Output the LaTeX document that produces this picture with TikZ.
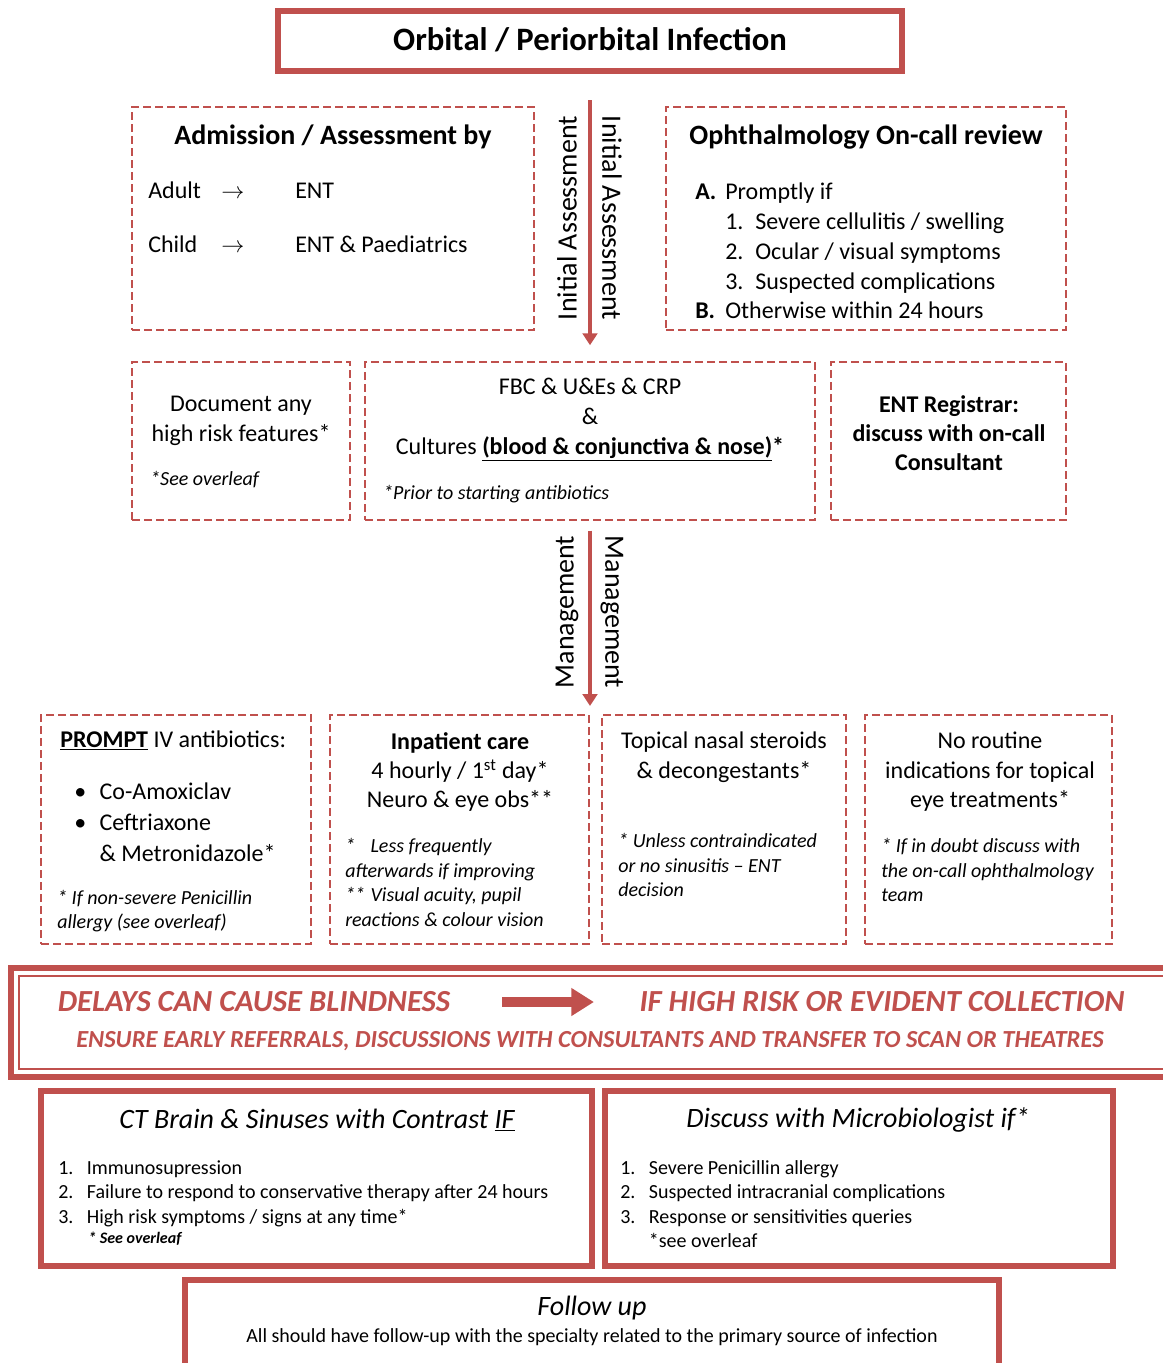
\documentclass[tikz,border=0pt]{standalone}
\usepackage{fontspec}
\setmainfont{Carlito}
\usetikzlibrary{arrows.meta,fit}
\definecolor{accred}{HTML}{C0504D}
\tikzset{
  dbox/.style={draw=accred, dash pattern=on 6pt off 3pt, line width=1.1pt, inner sep=0pt},
  sbox/.style={draw=accred, line width=4.5pt, inner sep=0pt},
  flow/.style={draw=accred, line width=3.6pt, -{Triangle[width=11pt,length=9pt]}},
  txt/.style={inner sep=0pt, align=center, font=\fontsize{18}{22}\selectfont},
  head/.style={inner sep=0pt, font=\fontsize{21}{25}\selectfont\bfseries},
  note/.style={inner sep=0pt, align=left, font=\fontsize{15}{18.5}\selectfont\itshape},
  side/.style={inner sep=0pt, font=\fontsize{21}{25}\selectfont},
  warn/.style={inner sep=0pt, text=accred, font=\bfseries\itshape},
  plain/.style={inner sep=0pt, align=left, font=\fontsize{15}{18.4}\selectfont},
}
\begin{document}
\begin{tikzpicture}[x=0.75pt,y=-0.75pt]
\useasboundingbox (0,0) rectangle (1163,1363);

% title
\node[sbox, fit={(278,11) (902,71)}] (title) {};
\node[inner sep=0pt, anchor=base, font=\fontsize{24.5}{28}\selectfont\bfseries] (titletext) at (590,51) {Orbital / Periorbital Infection};

% initial assessment
\node[dbox, fit={(132,107) (534,330)}] (admit) {};
\node[head] (admithead) at (333,137) {Admission / Assessment by};
\node[txt, anchor=mid west] (adult) at (148,195) {Adult};
\node[txt, anchor=mid west] (adultto) at (221,195) {$\rightarrow$};
\node[txt, anchor=mid west] (adultent) at (295,195) {ENT};
\node[txt, anchor=mid west] (child) at (148,249) {Child};
\node[txt, anchor=mid west] (childto) at (221,249) {$\rightarrow$};
\node[txt, anchor=mid west] (childent) at (295,249) {ENT \& Paediatrics};

\node[dbox, fit={(666,107) (1066,330)}] (ophth) {};
\node[head] (ophthhead) at (866,137) {Ophthalmology On-call review};
\node[txt, align=left, anchor=north west, font=\fontsize{18}{22.3}\selectfont] (ophthlist) at (695,183)
  {\makebox[22.5pt][l]{\textbf{A.}}Promptly if\\
   \hspace*{22.5pt}\makebox[22.5pt][l]{1.}Severe cellulitis / swelling\\
   \hspace*{22.5pt}\makebox[22.5pt][l]{2.}Ocular / visual symptoms\\
   \hspace*{22.5pt}\makebox[22.5pt][l]{3.}Suspected complications\\
   \makebox[22.5pt][l]{\textbf{B.}}Otherwise within 24 hours};

\node[side, rotate=90] (iaone) at (567,218) {Initial Assessment};
\node[side, rotate=-90] (iatwo) at (612,218) {Initial Assessment};

% investigations
\node[dbox, fit={(132,362) (350,520)}] (risk) {};
\node[txt, anchor=north] (risktext) at (241,396) {Document any\\high risk features*};
\node[note, anchor=mid west] (risknote) at (150,482) {*See overleaf};

\node[dbox, fit={(365,362) (815,520)}] (fbc) {};
\node[txt, anchor=north, font=\fontsize{18}{22.5}\selectfont] (fbctext) at (590,378)
  {FBC \& U\&Es \& CRP\\\&\\Cultures \textbf{\underline{(blood \& conjunctiva \& nose)}*}};
\node[note, anchor=mid west] (fbcnote) at (383,496) {*Prior to starting antibiotics};

\node[dbox, fit={(831,362) (1066,520)}] (reg) {};
\node[txt, anchor=north, font=\fontsize{18}{22}\selectfont\bfseries] (regtext) at (949,395)
  {ENT Registrar:\\discuss with on-call\\Consultant};

\draw[flow, shorten <=19.5pt, shorten >=12pt] (title) -- (fbc);

% management
\coordinate (mgmtend) at (590,706);
\draw[flow, shorten <=7.5pt] (fbc) -- (mgmtend);
\node[side, rotate=90] (mgone) at (567,612) {Management};
\node[side, rotate=-90] (mgtwo) at (612,612) {Management};

\node[dbox, fit={(41,715) (311,944)}] (abx) {};
\node[txt, anchor=mid west] (abxhead) at (60,744) {\underline{\textbf{PROMPT}} IV antibiotics:};
\node[txt, align=left, anchor=north west, font=\fontsize{18}{23}\selectfont] (abxlist) at (74,783)
  {\makebox[19pt][l]{\textbullet}Co-Amoxiclav\\
   \makebox[19pt][l]{\textbullet}Ceftriaxone\\
   \hspace*{19pt}\& Metronidazole*};
\node[note, anchor=north west, font=\fontsize{15}{18}\selectfont\itshape] (abxnote) at (57,890)
  {* If non-severe Penicillin\\allergy (see overleaf)};

\node[dbox, fit={(330,715) (589,944)}] (inpat) {};
\node[txt, anchor=north] (inpattext) at (460,732)
  {\textbf{Inpatient care}\\4 hourly / 1\textsuperscript{st} day*\\Neuro \& eye obs**};
\node[note, anchor=north west] (inpatnote) at (345,838)
  {\makebox[19pt][l]{*}Less frequently\\
   afterwards if improving\\
   \makebox[19pt][l]{**}Visual acuity, pupil\\
   reactions \& colour vision};

\node[dbox, fit={(602,715) (846,944)}] (nasal) {};
\node[txt, anchor=north] (nasaltext) at (724,732) {Topical nasal steroids\\\& decongestants*};
\node[note, anchor=north west] (nasalnote) at (618,833)
  {* Unless contraindicated\\or no sinusitis -- ENT\\decision};

\node[dbox, fit={(865,715) (1112,944)}] (eye) {};
\node[txt, anchor=north] (eyetext) at (990,732) {No routine\\indications for topical\\eye treatments*};
\node[note, anchor=north west] (eyenote) at (881,838)
  {* If in doubt discuss with\\the on-call ophthalmology\\team};

% warning banner
\node[draw=accred, line width=4.5pt, inner sep=0pt, fit={(11,968) (1178,1077)}] (banner) {};
\node[draw=accred, line width=1.5pt, inner sep=0pt, fit={(19,976) (1178,1069)}] (bannerin) {};
\node[warn, font=\bfseries\itshape\fontsize{23}{27}\selectfont] (delays) at (254,1002) {DELAYS CAN CAUSE BLINDNESS};
\node[warn, font=\bfseries\itshape\fontsize{23}{27}\selectfont] (highrisk) at (882,1002) {IF HIGH RISK OR EVIDENT COLLECTION};
\node[warn, font=\bfseries\itshape\fontsize{18.4}{22}\selectfont] (ensure) at (590,1041)
  {ENSURE EARLY REFERRALS, DISCUSSIONS WITH CONSULTANTS AND TRANSFER TO SCAN OR THEATRES};
\draw[accred, line width=7.5pt, -{Triangle[width=20pt,length=17pt]}, shorten <=39pt, shorten >=34pt] (delays) -- (highrisk);

% further steps
\node[sbox, fit={(41,1091) (592,1266)}] (ct) {};
\node[inner sep=0pt, font=\itshape\fontsize{21}{25}\selectfont] (cthead) at (317,1120)
  {CT Brain \& Sinuses with Contrast \underline{IF}};
\node[plain, anchor=north west] (ctlist) at (58,1160)
  {\makebox[21.5pt][l]{1.}Immunosupression\\
   \makebox[21.5pt][l]{2.}Failure to respond to conservative therapy after 24 hours\\
   \makebox[21.5pt][l]{3.}High risk symptoms / signs at any time*};
\node[inner sep=0pt, anchor=mid west, font=\bfseries\itshape\fontsize{12}{14}\selectfont] (ctnote) at (88,1240) {* See overleaf};

\node[sbox, fit={(605,1091) (1113,1266)}] (micro) {};
\node[inner sep=0pt, font=\itshape\fontsize{21}{25}\selectfont] (microhead) at (858,1120)
  {Discuss with Microbiologist if*};
\node[plain, anchor=north west] (microlist) at (620,1160)
  {\makebox[21.5pt][l]{1.}Severe Penicillin allergy\\
   \makebox[21.5pt][l]{2.}Suspected intracranial complications\\
   \makebox[21.5pt][l]{3.}Response or sensitivities queries\\
   \hspace*{21.5pt}*see overleaf};

\node[sbox, fit={(185,1280) (999,1390)}] (follow) {};
\node[inner sep=0pt, font=\itshape\fontsize{21}{25}\selectfont] (followhead) at (592,1308) {Follow up};
\node[plain, align=center] (followtext) at (592,1337)
  {All should have follow-up with the specialty related to the primary source of infection};
\end{tikzpicture}
\end{document}
